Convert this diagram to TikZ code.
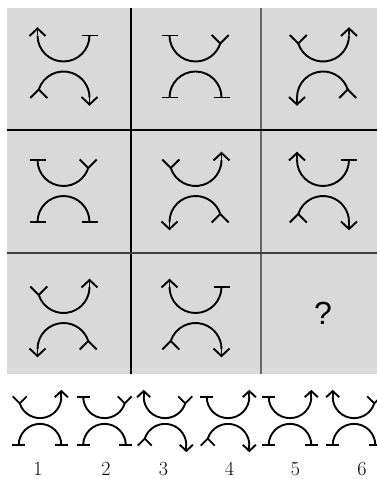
\documentclass[tikz,border=0pt]{standalone}
\usepackage{fontspec}
\newfontfamily\qfont{Liberation Sans}
\tikzset{
  sym/.style={line width=1.9pt, black},
  gline/.style={line width=1.2pt},
}
\def\gsep{31}
% end decorations: type (t,a,y), x, y, s (+1 top arc, -1 bottom arc)
\newcommand\deco[4]{%
  \if t#1\draw[sym] ({#2-8},#3) -- ({#2+8},#3);\fi
  \if a#1\draw[sym] (#2,#3) -- (#2,{#3+7*#4});
    \draw[sym] ({#2-8},{#3-0.5*#4}) -- (#2,{#3+7*#4}) -- ({#2+8},{#3-0.5*#4});\fi
  \if y#1\draw[sym] ({0.95*#2-8.5},{#3-8*#4+8.5*#4}) -- ({0.95*#2},{#3-8*#4}) -- ({0.95*#2+8.5},{#3-8*#4+8.5*#4});\fi
}
% glyph: top-left, top-right, bottom-left, bottom-right
\newcommand\glyph[4]{%
  \def\sa{180}\def\ea{360}%
  \if y#1\def\sa{197.9}\fi
  \if y#2\def\ea{342.1}\fi
  \draw[sym] ({26*cos(\sa)},{\gsep+26*sin(\sa)}) arc[start angle=\sa,end angle=\ea,radius=26];
  \deco{#1}{-26}{\gsep}{1}%
  \deco{#2}{26}{\gsep}{1}%
  \def\sa{180}\def\ea{0}%
  \if y#3\def\sa{162.1}\fi
  \if y#4\def\ea{17.9}\fi
  \draw[sym] ({26*cos(\sa)},{-\gsep+26*sin(\sa)}) arc[start angle=\sa,end angle=\ea,radius=26];
  \deco{#3}{-26}{-\gsep}{-1}%
  \deco{#4}{26}{-\gsep}{-1}%
}
\begin{document}
\begin{tikzpicture}[x=1pt,y=1pt]
\path[use as bounding box, fill=white] (0,0) rectangle (377,479);
% grid
\fill[gray!30] (7,105) rectangle (377,471);
\draw[gline, black] (131,105) -- (131,471);
\draw[gline, black!60] (261,105) -- (261,471);
\draw[gline, black] (7,349) -- (377,349);
\draw[gline, black!75] (7,226) -- (377,226);
% row 1
\begin{scope}[shift={(63.5,412.5)}]\glyph{a}{t}{y}{a}\end{scope}
\begin{scope}[shift={(195.5,412.5)}]\glyph{t}{y}{t}{t}\end{scope}
\begin{scope}[shift={(323,412.5)}]\glyph{y}{a}{a}{y}\end{scope}
% row 2
\begin{scope}[shift={(63.5,288)}]\glyph{t}{y}{t}{t}\end{scope}
\begin{scope}[shift={(195.5,288)}]\glyph{y}{a}{a}{y}\end{scope}
\begin{scope}[shift={(323,288)}]\glyph{a}{t}{y}{a}\end{scope}
% row 3
\begin{scope}[shift={(63.5,161)}]\glyph{y}{a}{a}{y}\end{scope}
\begin{scope}[shift={(195.5,161)}]\glyph{a}{t}{y}{a}\end{scope}
\node (q) at (323,166) {\qfont\fontsize{32pt}{32pt}\selectfont ?};
% options
\def\gsep{29.5}
\begin{scope}[shift={(40,58)},scale=0.82]\glyph{y}{a}{t}{t}\end{scope}
\begin{scope}[shift={(104.5,58)},scale=0.82]\glyph{t}{y}{t}{t}\end{scope}
\begin{scope}[shift={(165,58)},scale=0.82]\glyph{a}{y}{y}{a}\end{scope}
\begin{scope}[shift={(228,58)},scale=0.82]\glyph{t}{a}{y}{a}\end{scope}
\begin{scope}[shift={(290,58)},scale=0.82]\glyph{t}{a}{t}{t}\end{scope}
\begin{scope}[shift={(354,58)},scale=0.82]\glyph{a}{y}{t}{t}\end{scope}
% labels
\foreach \i/\x in {1/38,2/106,3/163.5,4/229.5,5/295.5,6/362}{
  \node[anchor=base, inner sep=0pt] (n\i) at (\x,3.5) {\fontsize{20pt}{20pt}\selectfont \i};
}
\end{tikzpicture}
\end{document}
